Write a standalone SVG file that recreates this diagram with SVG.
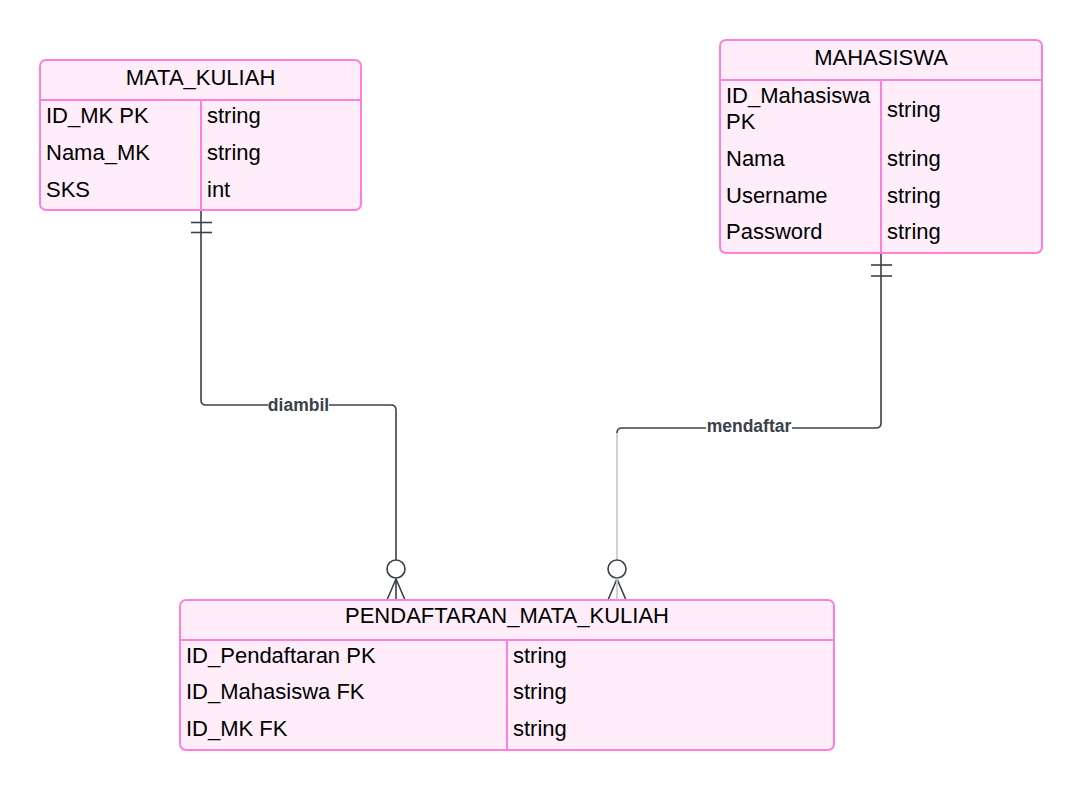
<svg xmlns="http://www.w3.org/2000/svg" width="1082" height="791" viewBox="0 0 1082 791">
<style>
.box{fill:#ffeefa;stroke:#ff80dc;stroke-width:2}
.ln{stroke:#ff80dc;stroke-width:2;fill:none}
.t{font-family:"Liberation Sans",Arial,sans-serif;font-size:22px;fill:#000}
.h{text-anchor:middle}
.c{stroke:#3a414a;stroke-width:1.6;fill:none}
.lbl{font-family:"Liberation Sans",Arial,sans-serif;font-size:17.5px;font-weight:bold;fill:#3a414a;text-anchor:middle}
</style>
<rect width="1082" height="791" fill="#ffffff"/>
<g id="connectors">
  <path class="c" d="M201,210 V400 Q201,405 206,405 H391 Q396,405 396,410 V560"/>
  <line class="c" x1="191" y1="222.5" x2="212" y2="222.5"/>
  <line class="c" x1="191" y1="232.5" x2="212" y2="232.5"/>
  <circle class="c" cx="396" cy="569" r="9" fill="#fff"/>
  <path class="c" d="M387,600 L396,579 L405,600 M396,578 V600"/>
  <rect x="268" y="396" width="61" height="18" fill="#fff"/>
  <text class="lbl" x="298.5" y="410.5">diambil</text>

  <path class="c" d="M881,253 V423 Q881,428 876,428 H622 Q617,428 617,433"/>
  <path d="M617,433 V560" stroke="#c4c7ca" stroke-width="1.6" fill="none"/>
  <line class="c" x1="871" y1="265" x2="892" y2="265"/>
  <line class="c" x1="871" y1="276" x2="892" y2="276"/>
  <circle class="c" cx="617" cy="569" r="9" fill="#fff"/>
  <path class="c" d="M608,600 L617,579 L626,600"/>
  <path d="M617,578 V600" stroke="#c4c7ca" stroke-width="1.6"/>
  <rect x="706" y="419" width="86" height="18" fill="#fff"/>
  <text class="lbl" x="749" y="431.5">mendaftar</text>
</g>
<g id="mata_kuliah">
  <rect class="box" x="40" y="60" width="321" height="150" rx="6"/>
  <line class="ln" x1="40" y1="100" x2="361" y2="100"/>
  <line class="ln" x1="201" y1="100" x2="201" y2="210"/>
  <text class="t h" x="200.5" y="85">MATA_KULIAH</text>
  <text class="t" x="46" y="123.3">ID_MK PK</text>
  <text class="t" x="207" y="123.3">string</text>
  <text class="t" x="46" y="160">Nama_MK</text>
  <text class="t" x="207" y="160">string</text>
  <text class="t" x="46" y="196.7">SKS</text>
  <text class="t" x="207" y="196.7">int</text>
</g>
<g id="mahasiswa">
  <rect class="box" x="720" y="40" width="322" height="213" rx="6"/>
  <line class="ln" x1="720" y1="80" x2="1042" y2="80"/>
  <line class="ln" x1="881" y1="80" x2="881" y2="253"/>
  <text class="t h" x="881" y="65">MAHASISWA</text>
  <text class="t" x="726" y="102.7">ID_Mahasiswa</text>
  <text class="t" x="726" y="129.3">PK</text>
  <text class="t" x="887" y="116.7">string</text>
  <text class="t" x="726" y="166">Nama</text>
  <text class="t" x="887" y="166">string</text>
  <text class="t" x="726" y="202.7">Username</text>
  <text class="t" x="887" y="202.7">string</text>
  <text class="t" x="726" y="239.3">Password</text>
  <text class="t" x="887" y="239.3">string</text>
</g>
<g id="pendaftaran_mata_kuliah">
  <rect class="box" x="180" y="600" width="654" height="150" rx="6"/>
  <line class="ln" x1="180" y1="640" x2="834" y2="640"/>
  <line class="ln" x1="507" y1="640" x2="507" y2="750"/>
  <text class="t h" x="507" y="623.3">PENDAFTARAN_MATA_KULIAH</text>
  <text class="t" x="186" y="662.7">ID_Pendaftaran PK</text>
  <text class="t" x="513" y="662.7">string</text>
  <text class="t" x="186" y="699.3">ID_Mahasiswa FK</text>
  <text class="t" x="513" y="699.3">string</text>
  <text class="t" x="186" y="736">ID_MK FK</text>
  <text class="t" x="513" y="736">string</text>
</g>
</svg>
